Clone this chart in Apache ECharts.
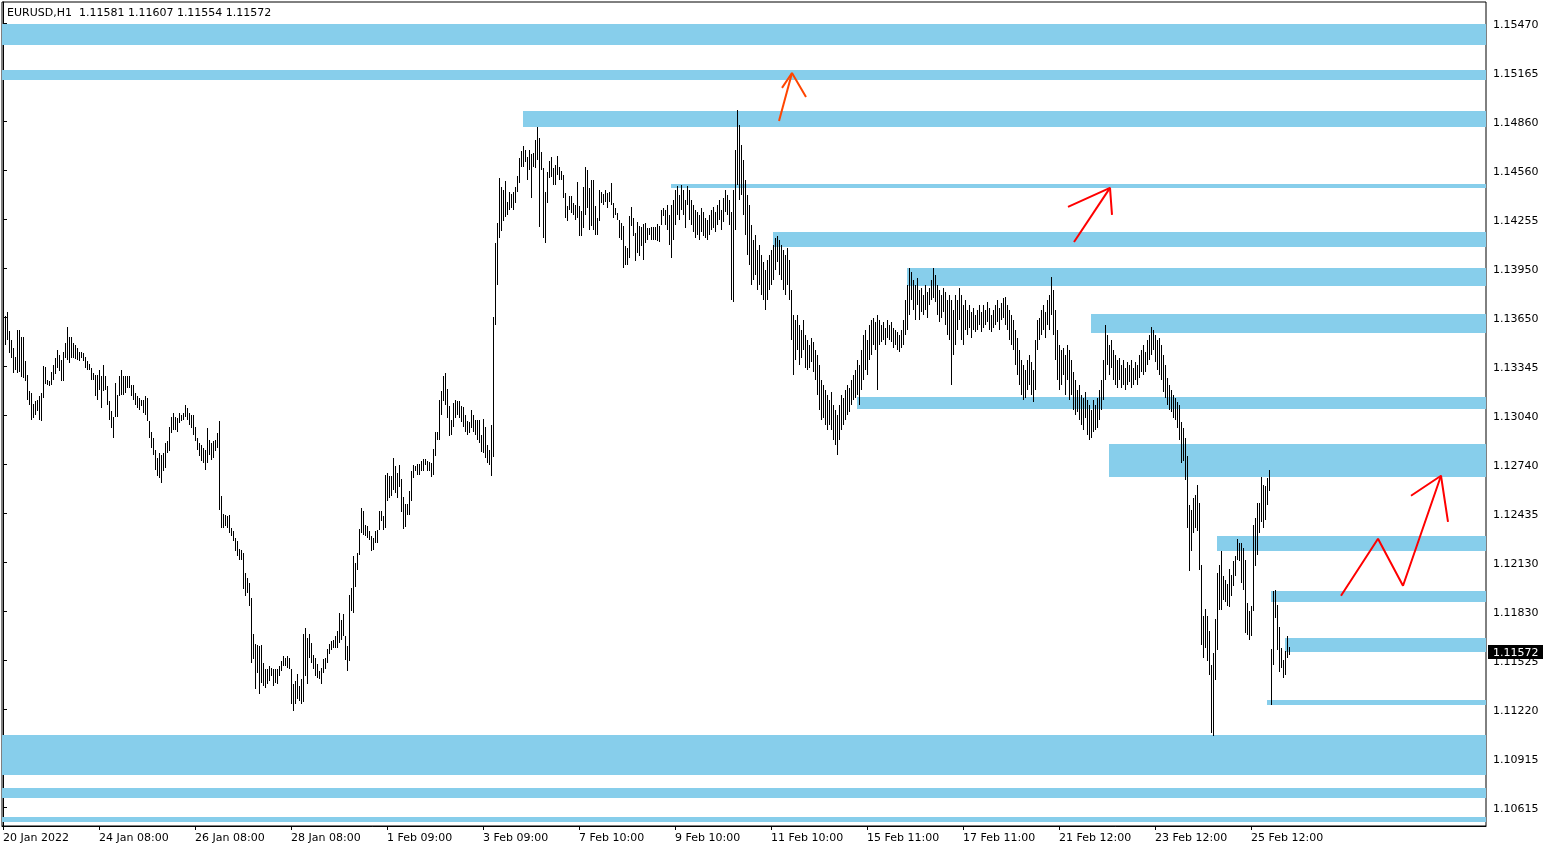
<!DOCTYPE html>
<html><head><meta charset="utf-8">
<script src="https://cdn.jsdelivr.net/npm/echarts@6/dist/echarts.min.js"></script>
<style>html,body{margin:0;padding:0;background:#fff}#c{width:1550px;height:850px}</style>
</head><body><div id="c"></div>
<script>
const symbolName = 'EURUSD,H1';
const lastOHLC = [1.11581, 1.11607, 1.11554, 1.11572];
const slotCount = 742;
const timeLabels = ['20 Jan 2022','24 Jan 08:00','26 Jan 08:00','28 Jan 08:00','1 Feb 09:00','3 Feb 09:00','7 Feb 10:00','9 Feb 10:00','11 Feb 10:00','15 Feb 11:00','17 Feb 11:00','21 Feb 12:00','23 Feb 12:00','25 Feb 12:00'];
const barsPerTimeLabel = 48;
const priceTicks = [1.10615,1.10915,1.11220,1.11525,1.11830,1.12130,1.12435,1.12740,1.13040,1.13345,1.13650,1.13950,1.14255,1.14560,1.14860,1.15165,1.15470];
const priceMin = 1.10497, priceMax = 1.15600;

// bar highs / lows, bars 0..330
const barHighA = [
1.13518,1.13656,1.13683,1.13563,1.13507,1.13456,1.13404,1.13569,1.13569,1.13528,
1.13528,1.13378,1.13287,1.13188,1.13177,1.13111,1.13130,1.13136,1.13163,1.13177,
1.13347,1.13338,1.13260,1.13254,1.13306,1.13353,1.13394,1.13446,1.13411,1.13384,
1.13435,1.13487,1.13590,1.13528,1.13528,1.13487,1.13473,1.13456,1.13435,1.13435,
1.13425,1.13404,1.13378,1.13357,1.13332,1.13301,1.13291,1.13287,1.13322,1.13281,
1.13353,1.13281,1.13219,1.13126,1.13064,1.13033,1.13240,1.13167,1.13285,1.13322,
1.13281,1.13281,1.13281,1.13281,1.13229,1.13229,1.13178,1.13157,1.13147,1.13137,
1.13137,1.13157,1.13147,1.13003,1.12940,1.12899,1.12827,1.12775,1.12806,1.12796,
1.12806,1.12868,1.12879,1.12971,1.13033,1.13054,1.13033,1.13023,1.13054,1.13044,
1.13054,1.13106,1.13085,1.13054,1.13044,1.13044,1.12971,1.12899,1.12868,1.12858,
1.12837,1.12827,1.12961,1.12889,1.12868,1.12879,1.12889,1.12930,1.13003,1.12543,
1.12431,1.12425,1.12419,1.12425,1.12343,1.12323,1.12281,1.12261,1.12213,1.12209,
1.12189,1.12065,1.12034,1.12004,1.11911,1.11684,1.11623,1.11616,1.11612,1.11616,
1.11509,1.11468,1.11468,1.11489,1.11478,1.11472,1.11468,1.11468,1.11489,1.11520,
1.11551,1.11540,1.11551,1.11540,1.11468,1.11375,1.11396,1.11437,1.11365,1.11406,
1.11684,1.11726,1.11664,1.11689,1.11633,1.11555,1.11540,1.11499,1.11458,1.11478,
1.11530,1.11540,1.11592,1.11623,1.11641,1.11651,1.11672,1.11707,1.11816,1.11775,
1.11810,1.11672,1.11610,1.11930,1.11971,1.12167,1.12126,1.12187,1.12336,1.12466,
1.12449,1.12363,1.12357,1.12322,1.12295,1.12280,1.12322,1.12332,1.12445,1.12445,
1.12418,1.12672,1.12682,1.12666,1.12666,1.12775,1.12724,1.12682,1.12734,1.12646,
1.12532,1.12491,1.12491,1.12569,1.12697,1.12734,1.12724,1.12738,1.12738,1.12755,
1.12769,1.12769,1.12755,1.12751,1.12743,1.12833,1.12940,1.12940,1.13136,1.13192,
1.13281,1.13301,1.13204,1.13095,1.13012,1.13116,1.13136,1.13126,1.13130,1.13095,
1.13089,1.13043,1.13006,1.13002,1.13074,1.13043,1.13012,1.13012,1.13012,1.12920,
1.13019,1.12971,1.12858,1.12827,1.12981,1.13652,1.14106,1.14230,1.14508,1.14457,
1.14436,1.14492,1.14360,1.14426,1.14409,1.14426,1.14457,1.14525,1.14632,1.14677,
1.14710,1.14683,1.14642,1.14683,1.14657,1.14663,1.14745,1.14828,1.14756,1.14669,
1.14570,1.14426,1.14550,1.14618,1.14639,1.14571,1.14591,1.14647,1.14581,1.14556,
1.14530,1.14416,1.14334,1.14400,1.14400,1.14354,1.14344,1.14488,1.14338,1.14303,
1.14457,1.14581,1.14561,1.14447,1.14499,1.14499,1.14334,1.14261,1.14433,1.14426,
1.14412,1.14437,1.14420,1.14426,1.14482,1.14354,1.14323,1.14296,1.14251,1.14230,
1.14210,1.14086,1.14076,1.14276,1.14330,1.14261,1.14169,1.14235,1.14210,1.14206,
1.14226,1.14230,1.14199,1.14199,1.14206,1.14206,1.14206,1.14226,1.14214,1.14313,1.14323];
const barLowA = [
1.13460,1.13476,1.13507,1.13425,1.13394,1.13301,1.13322,1.13301,1.13311,1.13280,
1.13270,1.13250,1.13136,1.13105,1.13013,1.13023,1.13044,1.13064,1.13013,1.13003,
1.13146,1.13233,1.13229,1.13219,1.13229,1.13260,1.13295,1.13332,1.13316,1.13250,
1.13254,1.13394,1.13384,1.13363,1.13394,1.13394,1.13390,1.13384,1.13374,1.13394,
1.13374,1.13332,1.13322,1.13322,1.13260,1.13260,1.13157,1.13136,1.13199,1.13085,
1.13188,1.13199,1.13105,1.13013,1.12962,1.12899,1.13033,1.13033,1.13157,1.13167,
1.13167,1.13178,1.13209,1.13209,1.13157,1.13136,1.13106,1.13085,1.13075,1.13095,
1.13054,1.13044,1.13003,1.12899,1.12837,1.12796,1.12703,1.12662,1.12652,1.12621,
1.12693,1.12713,1.12806,1.12817,1.12930,1.12951,1.12951,1.12940,1.12992,1.13003,
1.13013,1.13033,1.13013,1.12982,1.12961,1.12920,1.12879,1.12827,1.12786,1.12755,
1.12744,1.12703,1.12744,1.12796,1.12765,1.12775,1.12817,1.12837,1.12456,1.12343,
1.12343,1.12353,1.12343,1.12312,1.12292,1.12261,1.12199,1.12168,1.12147,1.12147,
1.11962,1.11921,1.11942,1.11859,1.11509,1.11530,1.11344,1.11447,1.11313,1.11385,
1.11365,1.11354,1.11375,1.11396,1.11427,1.11365,1.11385,1.11375,1.11427,1.11458,
1.11489,1.11489,1.11478,1.11468,1.11251,1.11210,1.11251,1.11282,1.11272,1.11251,
1.11262,1.11427,1.11375,1.11540,1.11509,1.11468,1.11427,1.11416,1.11406,1.11375,
1.11447,1.11468,1.11509,1.11561,1.11589,1.11599,1.11599,1.11599,1.11630,1.11651,
1.11672,1.11527,1.11455,1.11517,1.11826,1.11816,1.11975,1.12084,1.12173,1.12311,
1.12297,1.12291,1.12280,1.12270,1.12198,1.12208,1.12249,1.12249,1.12332,1.12383,
1.12332,1.12342,1.12507,1.12528,1.12538,1.12579,1.12559,1.12528,1.12594,1.12439,
1.12336,1.12346,1.12420,1.12425,1.12507,1.12652,1.12693,1.12672,1.12672,1.12693,
1.12693,1.12734,1.12697,1.12693,1.12656,1.12672,1.12786,1.12889,1.12889,1.13043,
1.13126,1.13105,1.13023,1.12915,1.12920,1.12971,1.13023,1.13043,1.13023,1.13002,
1.12971,1.12940,1.12920,1.12930,1.12961,1.12940,1.12920,1.12889,1.12868,1.12816,
1.12806,1.12775,1.12744,1.12734,1.12662,1.12785,1.13600,1.13848,1.14137,1.14182,
1.14244,1.14271,1.14281,1.14312,1.14322,1.14312,1.14353,1.14426,1.14477,1.14580,
1.14580,1.14611,1.14498,1.14560,1.14384,1.14580,1.14574,1.14621,1.14209,1.14560,
1.14137,1.14107,1.14354,1.14509,1.14519,1.14468,1.14468,1.14530,1.14499,1.14495,
1.14385,1.14261,1.14241,1.14313,1.14292,1.14282,1.14251,1.14261,1.14148,1.14148,
1.14199,1.14282,1.14323,1.14189,1.14210,1.14189,1.14158,1.14158,1.14241,1.14354,
1.14344,1.14364,1.14323,1.14364,1.14344,1.14261,1.14282,1.14251,1.14138,1.14127,
1.13952,1.13973,1.13973,1.14014,1.14210,1.14148,1.13993,1.14045,1.14024,1.14086,
1.14004,1.14107,1.14127,1.14158,1.14127,1.14123,1.14123,1.14117,1.14111,1.14220,1.14272];
// bars 331..588
const barHighB = [
1.14312,1.14343,1.14282,1.14343,1.14374,1.14436,1.14461,1.14405,1.14467,1.14436,
1.14374,1.14461,1.14436,1.14374,1.14343,1.14312,1.14300,1.14282,1.14324,1.14300,
1.14263,1.14251,1.14282,1.14312,1.14331,1.14300,1.14343,1.14374,1.14312,1.14386,
1.14436,1.14405,1.14374,1.14300,1.14436,1.14684,1.14931,1.14839,1.14715,1.14622,
1.14498,1.14405,1.14343,1.14220,1.14127,1.14158,1.14065,1.14096,1.14034,1.13991,
1.13941,1.14003,1.14034,1.14065,1.14096,1.14139,1.14152,1.14127,1.14096,1.14065,
1.14034,1.14077,1.14003,1.13817,1.13662,1.13632,1.13662,1.13601,1.13570,1.13632,
1.13539,1.13508,1.13477,1.13520,1.13496,1.13446,1.13415,1.13353,1.13260,1.13229,
1.13198,1.13167,1.13136,1.13186,1.13105,1.13074,1.13044,1.13105,1.13167,1.13148,
1.13198,1.13229,1.13210,1.13260,1.13291,1.13322,1.13384,1.13353,1.13446,1.13539,
1.13570,1.13508,1.13601,1.13632,1.13643,1.13620,1.13662,1.13632,1.13601,1.13620,
1.13582,1.13632,1.13601,1.13620,1.13582,1.13570,1.13558,1.13539,1.13570,1.13632,
1.13755,1.13848,1.13953,1.13929,1.13879,1.13848,1.13891,1.13817,1.13829,1.13786,
1.13848,1.13805,1.13829,1.13879,1.13953,1.13910,1.13848,1.13817,1.13786,1.13829,
1.13805,1.13755,1.13786,1.13755,1.13693,1.13786,1.13755,1.13829,1.13786,1.13724,
1.13755,1.13693,1.13724,1.13681,1.13705,1.13662,1.13693,1.13724,1.13681,1.13724,
1.13693,1.13743,1.13705,1.13662,1.13693,1.13724,1.13755,1.13705,1.13736,1.13767,
1.13774,1.13724,1.13693,1.13662,1.13632,1.13570,1.13520,1.13446,1.13384,1.13353,
1.13322,1.13384,1.13415,1.13372,1.13322,1.13508,1.13632,1.13643,1.13693,1.13724,
1.13681,1.13755,1.13786,1.13898,1.13817,1.13693,1.13570,1.13477,1.13446,1.13458,
1.13415,1.13477,1.13446,1.13384,1.13310,1.13260,1.13198,1.13229,1.13167,1.13148,
1.13186,1.13136,1.13105,1.13074,1.13136,1.13105,1.13148,1.13198,1.13260,1.13384,
1.13601,1.13539,1.13477,1.13508,1.13446,1.13415,1.13384,1.13396,1.13353,1.13384,
1.13334,1.13372,1.13353,1.13384,1.13334,1.13372,1.13353,1.13415,1.13446,1.13477,
1.13434,1.13508,1.13539,1.13589,1.13570,1.13539,1.13508,1.13520,1.13477,1.13415,
1.13353,1.13272,1.13229,1.13198,1.13167,1.13148,1.13124,1.13105];
const barLowB = [
1.14220,1.14189,1.14096,1.14015,1.14127,1.14220,1.14282,1.14251,1.14312,1.14282,
1.14201,1.14343,1.14251,1.14220,1.14177,1.14139,1.14158,1.14127,1.14177,1.14152,
1.14139,1.14127,1.14158,1.14189,1.14201,1.14177,1.14220,1.14251,1.14189,1.14239,
1.14300,1.14282,1.14220,1.13755,1.13743,1.14189,1.14467,1.14374,1.14405,1.14282,
1.14158,1.14034,1.13972,1.13848,1.13879,1.13910,1.13817,1.13848,1.13786,1.13755,
1.13693,1.13755,1.13817,1.13848,1.13879,1.13941,1.13991,1.13910,1.13879,1.13817,
1.13786,1.13848,1.13755,1.13508,1.13291,1.13384,1.13446,1.13353,1.13396,1.13446,
1.13334,1.13322,1.13334,1.13372,1.13310,1.13260,1.13167,1.13074,1.13013,1.13025,
1.12982,1.12951,1.12982,1.12951,1.12889,1.12858,1.12796,1.12889,1.12951,1.12982,
1.13013,1.13044,1.13062,1.13105,1.13136,1.13148,1.13167,1.13105,1.13198,1.13260,
1.13322,1.13291,1.13384,1.13415,1.13477,1.13446,1.13198,1.13477,1.13496,1.13508,
1.13477,1.13520,1.13508,1.13496,1.13458,1.13477,1.13446,1.13434,1.13458,1.13477,
1.13539,1.13570,1.13662,1.13755,1.13693,1.13632,1.13724,1.13632,1.13681,1.13662,
1.13693,1.13643,1.13724,1.13755,1.13767,1.13743,1.13662,1.13620,1.13643,1.13681,
1.13601,1.13539,1.13508,1.13229,1.13415,1.13477,1.13570,1.13632,1.13508,1.13477,
1.13570,1.13539,1.13582,1.13520,1.13570,1.13558,1.13570,1.13601,1.13558,1.13582,
1.13601,1.13620,1.13570,1.13558,1.13582,1.13601,1.13620,1.13570,1.13632,1.13643,
1.13601,1.13570,1.13508,1.13477,1.13446,1.13353,1.13291,1.13229,1.13167,1.13136,
1.13148,1.13198,1.13229,1.13167,1.13124,1.13198,1.13446,1.13508,1.13539,1.13570,
1.13520,1.13601,1.13570,1.13662,1.13539,1.13384,1.13260,1.13198,1.13229,1.13291,
1.13167,1.13260,1.13136,1.13167,1.13074,1.13044,1.13062,1.13013,1.12982,1.12951,
1.13025,1.12920,1.12889,1.12901,1.12939,1.12951,1.12963,1.13013,1.13074,1.13136,
1.13260,1.13353,1.13291,1.13334,1.13260,1.13229,1.13210,1.13260,1.13210,1.13229,
1.13198,1.13229,1.13248,1.13210,1.13229,1.13260,1.13229,1.13272,1.13310,1.13291,
1.13310,1.13353,1.13384,1.13415,1.13446,1.13372,1.13322,1.13291,1.13260,1.13186,
1.13148,1.13105,1.13074,1.13062,1.13025,1.13013,1.12963,1.12889];
// bars 589..643
const barHighC = [
1.13000,1.12960,1.12900,1.12786,1.12487,1.12456,1.12528,1.12549,1.12610,1.12497,
1.12115,1.11796,1.11841,1.11796,1.11707,1.11497,1.11569,1.11779,1.12064,1.12115,
1.12202,1.12047,1.12023,1.11998,1.12089,1.12053,1.12136,1.12171,1.12274,1.12249,
1.12249,1.12218,1.12146,1.11878,1.11827,1.11862,1.12363,1.12404,1.12497,1.12497,
1.12658,1.12611,1.12600,1.12652,1.12703,1.11593,1.11950,1.11961,1.11868,1.11730,
1.11600,1.11523,1.11579,1.11676,1.11607];
const barLowC = [
1.12745,1.12755,1.12641,1.12342,1.12074,1.12198,1.12311,1.12342,1.12322,1.12084,
1.11620,1.11538,1.11600,1.11517,1.11435,1.11074,1.11053,1.11404,1.11589,1.11837,
1.11833,1.11899,1.11882,1.11857,1.11851,1.11919,1.11981,1.12043,1.12146,1.12136,
1.12002,1.11961,1.11692,1.11682,1.11647,1.11672,1.11827,1.12109,1.12177,1.12311,
1.12377,1.12342,1.12394,1.12487,1.12569,1.11249,1.11497,1.11785,1.11585,1.11449,
1.11476,1.11414,1.11435,1.11538,1.11554];

// zones: start bar (null = from left edge), top price, bottom price
const zoneStart  = [null,   null,   260,    334,    385,    452,    544,    427,    553,    607,    634,    641,    632,    null,   null,   null];
const zoneTop    = [1.15464,1.15179,1.14925,1.14473,1.14176,1.13953,1.13669,1.13155,1.12864,1.12295,1.11954,1.11663,1.11279,1.11063,1.10735,1.10555];
const zoneBottom = [1.15334,1.15117,1.14826,1.14449,1.14083,1.13842,1.13551,1.13081,1.12660,1.12202,1.11886,1.11576,1.11248,1.10815,1.10673,1.10524];

// hand-drawn arrows: [bar position, price]
const arrow1Shaft = [[388,1.14863],[394.5,1.15160]];
const arrow1Head  = [[389.5,1.15068],[394.5,1.15160],[401.5,1.15012]];
const arrow2Shaft = [[535.5,1.14114],[553.5,1.14449]];
const arrow2Head  = [[532.5,1.14331],[553.5,1.14449],[554.5,1.14282]];
const arrow3Path  = [[669,1.11923],[687.5,1.12276],[700,1.11985],[719,1.12666]];
const arrow3Head  = [[704,1.12542],[719,1.12666],[722.5,1.12381]];

const FONT = 'DejaVu Sans';
const barHigh = barHighA.concat(barHighB, barHighC);
const barLow = barLowA.concat(barLowB, barLowC);
const bars = barHigh.map((h,i)=>[i, h, barLow[i]]);
const xMin = -0.5, xMax = slotCount - 0.5;
const zones = zoneTop.map((t,i)=>[zoneStart[i]==null?xMin:zoneStart[i], t, zoneBottom[i]]);
const timeTickIdx = timeLabels.map((_,k)=>k*barsPerTimeLabel);

function arrowSeries(pts, color){
  return {type:'line', data:pts, symbol:'none', silent:true, z:10, clip:false,
    lineStyle:{color:color, width:2}, animation:false};
}

const chart = echarts.init(document.getElementById('c'), null, {renderer:'canvas'});
chart.setOption({
  animation:false,
  backgroundColor:'#ffffff',
  title:{text: symbolName + '  ' + lastOHLC.map(v=>v.toFixed(5)).join(' '), left:7, top:8, padding:0,
    textStyle:{fontFamily:FONT, fontSize:11, fontWeight:'normal', color:'#000'}},
  grid:{left:2, right:64, top:2, bottom:24, show:true, borderColor:'#000', borderWidth:1, backgroundColor:'#fff'},
  xAxis:{type:'value', min:xMin, max:xMax, position:'bottom',
    axisLine:{show:true, lineStyle:{color:'#000', width:1}},
    axisTick:{show:true, customValues:timeTickIdx, length:4, lineStyle:{color:'#000'}},
    axisLabel:{customValues:timeTickIdx, formatter:v=>timeLabels[Math.round(v/barsPerTimeLabel)], align:'left', margin:7,
      fontFamily:FONT, fontSize:11, color:'#000'},
    splitLine:{show:false}},
  yAxis:{type:'value', min:priceMin, max:priceMax, position:'right', scale:true,
    axisLine:{show:true, lineStyle:{color:'#000', width:1}},
    axisTick:{show:true, customValues:priceTicks, length:4, lineStyle:{color:'#000'}},
    axisLabel:{customValues:priceTicks, formatter:v=>v.toFixed(5), margin:7, verticalAlign:'top', lineHeight:4,
      fontFamily:FONT, fontSize:11, color:'#000'},
    splitLine:{show:false}},
  series:[
    {type:'custom', data:zones, z:1, silent:true, clip:true,
      encode:{x:0, y:[1,2]},
      renderItem:(params, api)=>{
        const cs = params.coordSys;
        const p1 = api.coord([api.value(0), api.value(1)]);
        const p2 = api.coord([xMax, api.value(2)]);
        const x0 = Math.max(cs.x, Math.round(p1[0]));
        const y0 = Math.round(p1[1]);
        return {type:'rect', shape:{x:x0, y:y0, width:cs.x+cs.width-x0, height:Math.max(1,Math.round(p2[1])-y0)},
          style:{fill:'#87CEEB'}};
      }},
    {type:'custom', data:bars, z:5, silent:true,
      encode:{x:0, y:[1,2]},
      renderItem:(params, api)=>{
        const a = api.coord([api.value(0), api.value(1)]);
        const b = api.coord([api.value(0), api.value(2)]);
        const y0 = Math.round(a[1]);
        return {type:'rect', shape:{x:Math.round(a[0]), y:y0, width:1, height:Math.max(1,Math.round(b[1])-y0)},
          style:{fill:'#000'}};
      }},
    arrowSeries(arrow1Shaft,'#FF4500'), arrowSeries(arrow1Head,'#FF4500'),
    arrowSeries(arrow2Shaft,'#FF0000'), arrowSeries(arrow2Head,'#FF0000'),
    arrowSeries(arrow3Path,'#FF0000'), arrowSeries(arrow3Head,'#FF0000'),
    {type:'custom', data:[[xMax, lastOHLC[3]]], z:50, silent:true, clip:false,
      encode:{x:0, y:1},
      renderItem:(params, api)=>{
        const cs = params.coordSys;
        const p = api.coord([api.value(0), api.value(1)]);
        const x = cs.x + cs.width + 2;
        const y = Math.round(p[1]);
        return {type:'group', children:[
          {type:'rect', shape:{x:x, y:y-7, width:55, height:14}, style:{fill:'#000'}},
          {type:'text', style:{text:api.value(1).toFixed(5), x:x+5, y:y+1, align:'left', verticalAlign:'middle',
            fill:'#fff', font:'11px "DejaVu Sans"'}}
        ]};
      }}
  ]
});
</script></body></html>
